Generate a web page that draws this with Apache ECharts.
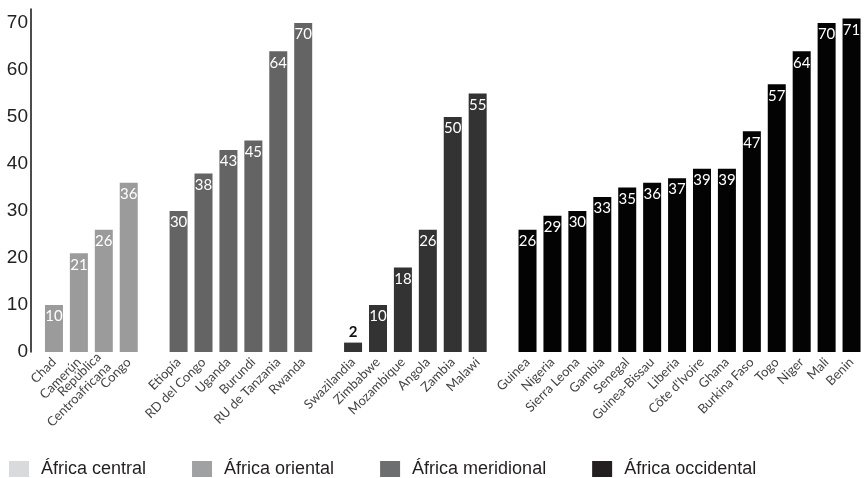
<!DOCTYPE html>
<html><head><meta charset="utf-8">
<script src="https://cdn.jsdelivr.net/npm/echarts@6/dist/echarts.min.js"></script>
<style>html,body{margin:0;padding:0;background:#fff}#c{width:864px;height:478px}</style>
</head><body><div id="c"></div>
<script>
var centralNames = ['Chad', 'Camerún', 'República\nCentroafricana', 'Congo'];
var centralValues = [10, 21, 26, 36];
var orientalNames = ['Etiopía', 'RD del Congo', 'Uganda', 'Burundi', 'RU de Tanzania', 'Rwanda'];
var orientalValues = [30, 38, 43, 45, 64, 70];
var meridionalNames = ['Swazilandia', 'Zimbabwe', 'Mozambique', 'Angola', 'Zambia', 'Malawi'];
var meridionalValues = [2, 10, 18, 26, 50, 55];
var occidentalNames = ['Guinea', 'Nigeria', 'Sierra Leona', 'Gambia', 'Senegal', 'Guinea-Bissau', 'Liberia', "Côte d'Ivoire", 'Ghana', 'Burkina Faso', 'Togo', 'Niger', 'Mali', 'Benin'];
var occidentalValues = [26, 29, 30, 33, 35, 36, 37, 39, 39, 47, 57, 64, 70, 71];
var groupNames = ['África central', 'África oriental', 'África meridional', 'África occidental'];
var yTicks = [0, 10, 20, 30, 40, 50, 60, 70];

var barColors = ['#9b9b9b', '#646464', '#333333', '#030303'];
var legendColors = ['#d9dadb', '#a0a1a3', '#6d6e70', '#231f20'];

var groups = [[centralNames, centralValues], [orientalNames, orientalValues], [meridionalNames, meridionalValues], [occidentalNames, occidentalValues]];
var cats = [];
var offsets = [];
groups.forEach(function (g, gi) {
  if (gi > 0) cats.push(' '.repeat(gi));
  offsets.push(cats.length);
  g[0].forEach(function (n) { cats.push(n); });
});

var series = groups.map(function (g, gi) {
  var arr = cats.map(function () { return null; });
  g[1].forEach(function (v, i) {
    var item = { value: v };
    if (v < 5) {
      item.label = { position: 'top', color: '#111', fontWeight: 'bold', distance: 3 };
    }
    arr[offsets[gi] + i] = item;
  });
  return {
    name: groupNames[gi],
    type: 'bar',
    data: arr,
    barWidth: 18,
    barGap: '-100%',
    itemStyle: { color: barColors[gi] },
    label: {
      show: true,
      position: 'insideTop',
      distance: 4,
      color: '#fff',
      fontSize: 15,
      fontFamily: 'Lato, sans-serif'
    },
    animation: false
  };
});

var chart = echarts.init(document.getElementById('c'));
chart.setOption({
  animation: false,
  grid: { left: 41.5, right: -5.5, top: 9, bottom: 126, containLabel: false },
  legend: {
    left: 9,
    top: 460,
    padding: 0,
    icon: 'rect',
    itemWidth: 20,
    itemHeight: 16,
    itemGap: 46,
    textStyle: { fontSize: 18, fontFamily: 'Liberation Sans, sans-serif', color: '#231f20', padding: [0, 0, 0, 7] },
    data: groupNames.map(function (n, i) {
      return { name: n, itemStyle: { color: legendColors[i] } };
    })
  },
  xAxis: {
    type: 'category',
    data: cats,
    axisLine: { show: false },
    axisTick: { show: false },
    axisLabel: {
      interval: 0,
      rotate: 45,
      margin: 8,
      fontSize: 13,
      lineHeight: 14,
      color: '#444',
      fontFamily: 'Lato, sans-serif'
    }
  },
  yAxis: {
    type: 'value',
    min: 0,
    max: 73,
    interval: 10,
    offset: 10.5,
    splitLine: { show: false },
    axisTick: { show: false },
    axisLine: { show: true, lineStyle: { color: '#111', width: 1.5 } },
    axisLabel: {
      margin: 3,
      fontSize: 19,
      color: '#222',
      fontFamily: 'Liberation Sans Narrow, sans-serif',
      formatter: function (v) { return yTicks.indexOf(v) >= 0 ? String(v) : ''; }
    }
  },
  series: series
});
</script></body></html>
